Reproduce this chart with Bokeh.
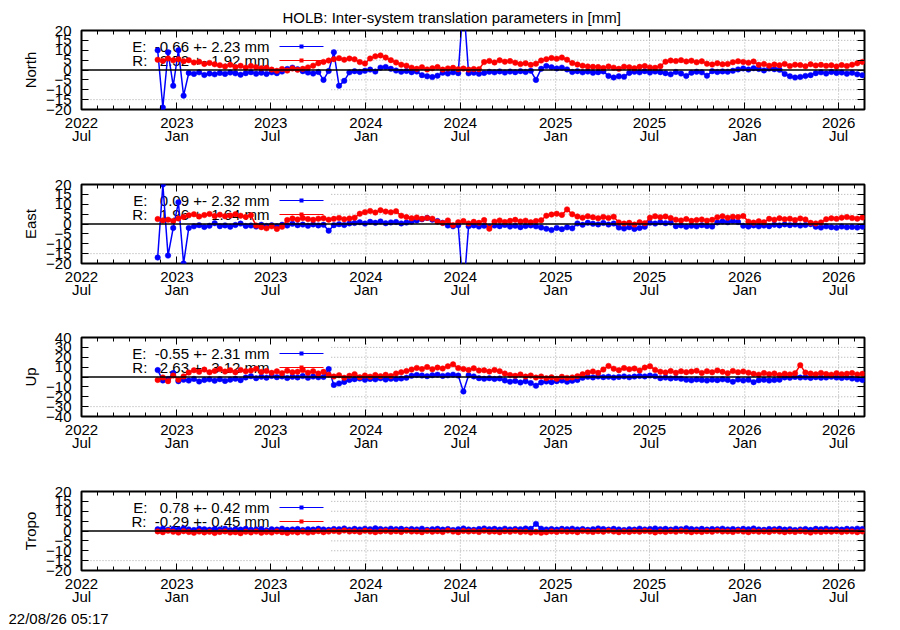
import pandas as pd
from bokeh.embed import file_html
from bokeh.layouts import column
from bokeh.models import BoxAnnotation, ColumnDataSource, FixedTicker, Label, LinearAxis, Range1d, Span, Title
from bokeh.plotting import figure
from bokeh.resources import INLINE

FONT = "Liberation Sans"
BLUE = "#0000ff"
RED = "#ff0000"
GRID = "#a8a8a8"

TITLE = "HOLB: Inter-system translation parameters in [mm]"
STAMP = "22/08/26 05:17"

# x axis
X_START = "2022-07-01"
X_END = "2026-08-20"
KEY_EDGE = "2023-10-26"  # right edge of the opaque key box
HALF_YEARS = ["2022-07-01", "2023-01-01", "2023-07-01", "2024-01-01", "2024-07-01",
              "2025-01-01", "2025-07-01", "2026-01-01", "2026-07-01"]
TICK_LABELS = ["2022\nJul", "2023\nJan", "2023\nJul", "2024\nJan", "2024\nJul",
               "2025\nJan", "2025\nJul", "2026\nJan", "2026\nJul"]

# solutions, one value every 10 days
START = "2022-11-25"
STEP = "10D"

NORTH_E = [10.0, -19.0, 9.0, -8.0, 10.0, -13.0, -1.5, -2.0, -1.2, -2.5,
           -1.8, -2.2, -1.5, -2.0, -1.3, -1.7, -2.4, -1.6, -1.1, -1.9,
           -1.4, -2.0, -1.2, -1.6, -0.8, 0.5, 1.2, 0.4, -0.6, -1.3,
           -1.8, -1.0, -5.0, -0.5, 9.0, -8.0, -5.5, -1.2, -0.6, -1.0,
           -0.4, 0.2, -0.8, 1.2, 1.5, 0.6, -0.3, -0.9, -0.5, -1.1,
           -0.8, -2.6, -3.2, -3.6, -2.9, -1.4, -1.8, -1.2, -1.6, 35.0,
           -1.7, -1.4, -1.9, -1.5, -0.9, -1.2, -0.7, -1.3, -0.8, -1.1,
           -0.6, -1.0, -0.4, -5.0, 0.6, 2.0, 1.4, 0.8, 1.2, 0.3,
           -1.0, -0.6, -1.2, -0.8, -1.4, -1.1, -0.7, -3.0, -3.8, -3.2,
           -3.4, -1.5, -0.9, -1.2, -0.6, -1.3, -0.8, -1.1, -1.6, -2.2,
           -1.0, -1.8, -3.0, -1.4, -0.9, -1.2, -2.9, -0.6, -1.0, -0.7,
           -0.9, -0.4, 0.3, 0.8, 0.2, 0.9, 0.5, -0.2, 0.7, 0.4,
           0.1, -2.0, -3.2, -3.8, -3.5, -3.0, -2.6, -1.6, -1.2, -1.8,
           -1.0, -1.5, -1.3, -1.9, -1.4, -2.2, -2.6]
NORTH_R = [5.2, 4.6, 5.8, 4.9, 5.5, 4.4, 5.0, 3.8, 4.2, 3.1,
           3.6, 2.9, 2.4, 1.8, 2.6, 1.5, 2.1, 1.2, 2.0, 1.4,
           0.9, 1.1, 0.2, -0.4, 0.5, -0.3, 0.8, 0.1, 0.6, 1.3,
           2.2, 3.4, 4.1, 4.8, 5.5, 6.0, 5.2, 5.8, 5.4, 4.0,
           3.3, 5.8, 6.9, 7.4, 6.3, 5.0, 3.8, 2.7, 2.2, 1.2,
           0.6, 1.4, 0.3, 0.9, 1.5, 0.2, 0.8, 1.1, 0.4, 0.7,
           0.2, 0.5, 0.4, 4.0, 4.6, 3.8, 4.9, 4.2, 4.5, 3.7,
           3.0, 3.4, 2.6, 3.2, 4.8, 5.5, 6.1, 5.7, 6.3, 5.2,
           3.5, 2.8, 2.2, 1.8, 1.6, 1.5, 1.0, 1.8, 1.2, 0.6,
           1.7, 1.4, 0.9, 1.6, 2.0, 1.3, 1.1, 1.9, 4.2, 4.8,
           4.5, 5.0, 4.3, 4.7, 3.9, 4.4, 3.2, 2.8, 3.4, 2.9,
           3.1, 3.9, 4.4, 4.1, 3.7, 4.3, 2.6, 3.0, 2.2, 2.8,
           2.4, 3.1, 2.0, 2.7, 2.5, 1.9, 2.9, 2.3, 2.6, 2.1,
           2.4, 1.8, 2.5, 2.0, 2.7, 3.4, 4.1]

EAST_E = [-17.0, 20.0, -16.0, -2.0, 11.0, -20.0, -2.0,
          -1.2, -0.6, -1.5, -0.9, 0.4, -1.1, -0.7, -1.4, -0.5, 0.2, -1.0, -0.8, -1.3, -0.4, -1.0, -0.6, -1.2,
          -0.4, -0.8, 0.1, -0.6, -0.3, -0.9, -0.2, -0.7, -0.4, -3.4, -0.6, -0.1, -0.5, 0.3,
          0.5, 0.9, 0.2, 1.1, 0.6, 1.3, 0.4, 0.8, 1.0, 0.3, 0.7, 1.2,
          1.8, 2.4, 3.1, 2.2, 1.5, 0.6,
          -0.8, -1.2, -0.6, -35.0, -1.1, -0.7, -1.3,
          -0.9, -1.4, -0.8, -1.1, -0.5, -1.3, -0.9, -1.6, -1.0, -0.7, -1.2,
          -1.8, -2.4, -3.1, -2.0, -2.6, -1.7, -2.2,
          0.3, -0.4, 0.6, 0.1, -0.2, 0.5, -0.3, 0.2,
          -1.8, -2.3, -1.6, -2.5, -2.0, -1.4,
          0.6, 0.2, 0.9, 0.4, 0.7,
          -1.1, -0.7, -1.4, -0.9, -1.2, -0.6, -1.0, -1.3,
          0.8, 1.3, 0.9, 1.5, 1.0,
          -0.9, -1.3, -0.7, -1.2, -0.8, -1.1,
          -0.4, -0.7, -0.2, -0.6, -0.3, -0.8, -0.5, -0.1,
          -1.4, -1.8, -1.2, -1.6, -1.9, -1.3, -1.7, -1.5, -1.8, -1.4]
EAST_R = [2.5, 1.8, 2.2, 1.5, 2.8,
          3.6, 4.4, 4.9, 3.8, 4.5, 5.1, 4.0, 4.7, 3.9, 4.3, 5.0, 4.2, 3.6, 4.4,
          -0.8, -1.6, -2.2, -1.2, -2.5, -1.4,
          2.0, 2.8, 2.3, 3.0, 2.5, 2.1, 2.7, 2.9, 2.2, 2.6, 3.1, 2.4, 2.8, 3.2,
          5.2, 6.0, 6.6, 5.8, 7.0, 6.3, 5.9, 6.5,
          4.2, 3.5, 2.9, 3.3, 2.6, 3.1, 2.7,
          1.2, 0.5, 1.8, -0.6, 0.9, 1.5, 0.3, 1.1, 0.6,
          2.0, -2.4,
          1.2, 1.8, 1.0, 1.6, 2.1, 1.3, 1.7, 0.9, 1.5, 1.9,
          4.2, 4.8, 5.2, 4.6, 7.4, 4.9,
          3.8, 3.2, 3.9, 3.4, 2.9, 3.6, 3.1, 3.7,
          0.8, 0.2, 0.6, -0.3, 0.9, 0.4,
          3.2, 3.9, 3.4, 3.8, 3.0,
          2.2, 1.8, 2.5, 1.6, 2.0, 2.3, 1.7, 2.1,
          3.4, 3.9, 3.2, 3.7, 3.5, 4.0,
          1.2, 0.7, 1.4, 0.9,
          2.6, 2.2, 2.9, 2.4, 2.7, 2.0, 2.8, 2.3,
          0.6, 0.3, 0.8,
          2.4, 2.9, 2.6, 3.2, 3.5, 3.0, 2.7, 3.3]

UP_E = [7.0, -3.5, -2.0, 4.0, -4.2, -2.8, -3.6, -1.9, -4.5, -3.0, -2.4, -3.8, -2.2, -4.0, -2.7, -1.8, -3.2,
        -0.5, 0.8, -1.2, 0.3, -0.7, 1.0, -0.2, 0.6, -1.0, 0.2, -0.4, 0.9, -0.8, 0.4, -0.3, 0.1,
        8.0, -8.0, -6.5, -5.0, -3.0,
        -2.2, -1.6, -2.8, -1.9, -2.4, -1.3, -2.6, -1.8, -2.1, -1.5, -0.8,
        1.2, 2.0, 1.5, 0.8, 1.8, 2.3, 1.1, 1.7, 2.4, 1.4,
        -14.7,
        1.8, 0.6, -1.2,
        -1.8, -1.2, -2.0, -1.5,
        -3.5, -4.8, -4.0, -5.6, -4.4, -6.2, -8.8, -5.5, -4.6, -5.2,
        -4.2, -3.6, -4.8, -3.9, -3.0,
        -0.8, 0.2, -0.4, 0.5, -0.2, 0.3, -0.6, 0.1, 0.6, -0.3, 0.4,
        1.0, 0.6, 1.4, 0.8,
        -1.2, -0.6, -1.5, -0.9, -1.8,
        -2.8, -3.4, -2.5, -3.1, -3.6, -2.7, -3.2, -2.4,
        -3.0, -4.8, -2.6, -3.5, -2.9, -5.2, -3.3, -2.8, -3.6, -3.1, -2.7,
        -0.4, -0.8, 0.1, -0.6, -0.3, -0.9, -0.2, -0.7, -0.5, 0.2, -0.6, -1.0, -0.4, -1.5, -2.4, -3.0]
UP_R = [-3.0, -0.5, -4.2, 1.5, -2.8, 0.6,
        4.5, 6.8, 5.2, 7.5, 4.8, 6.2, 8.0, 5.5, 6.9, 4.9, 7.2, 5.8, 6.5, 8.3, 5.1,
        6.1, 4.2, 5.7, 3.9, 6.4, 4.8, 5.3, 7.0, 4.4, 5.9, 3.6, 5.2,
        2.4, 0.5, 1.8, -0.8, 1.2, 2.9, -0.2, 1.5, 0.3, 2.0,
        0.8, 2.2, 1.0, 3.5, 4.8, 6.0,
        7.5, 9.2, 8.0, 10.1, 7.8, 9.5, 8.6, 10.8, 12.8, 9.0, 8.2, 7.0, 8.8, 6.5,
        6.8, 5.5, 7.2, 5.9,
        3.5, 2.0, 1.2, 2.6, 0.4, 1.5, -0.6,
        0.5, -1.2, -0.3, -1.8, 0.2, -0.9, -0.4, 0.8,
        2.8, 4.5, 5.6, 4.2,
        7.5, 11.2, 8.4, 6.9, 9.1, 7.8, 8.6, 6.6, 9.5, 10.9, 7.2,
        5.4, 4.6, 6.0, 4.3, 5.8, 4.9,
        5.5, 6.3, 4.1, 5.9, 4.7, 6.6, 5.2, 3.9, 6.1, 4.8, 5.6, 4.4,
        3.2, 2.4, 4.0, 2.8, 3.6, 1.9, 3.4, 2.6, 3.8,
        12.0, 4.5,
        3.5, 2.7, 4.1, 3.0, 2.4, 3.8, 2.9, 3.3, 4.0, 2.6, 3.2]

TROPO_E = [0.9, 1.2, 0.6, 1.0, 0.7, 1.3, 0.8, 0.5, 1.1, 0.9,
           0.6, 1.0, 0.8, 1.2, 0.5, 0.9, 0.7, 1.1, 0.6, 0.8,
           1.0, 0.4, 0.9, 0.7, 1.2, 0.6, 0.8, 1.0, 0.5, 0.9,
           0.7, 1.1, 0.8, 0.6, 1.0, 0.9, 1.3, 0.7, 1.1, 0.8,
           1.2, 0.9, 1.4, 1.0, 0.8, 1.2, 0.9, 1.1, 0.7, 1.0,
           0.8, 1.2, 0.6, 0.9, 1.1, 0.7, 1.0, 0.5, 0.9, 1.3,
           0.8, 0.6, 1.0, 1.3, 0.9, 1.1, 0.7, 1.2, 0.8, 1.0,
           0.9, 1.3, 1.1, 3.6, 1.2, 0.8, 1.0, 0.7, 1.1, 0.9,
           1.2, 0.8, 1.0, 0.6, 0.9, 1.3, 1.0, 0.7, 1.1, 0.8,
           0.5, 0.9, 0.7, 1.2, 0.8, 1.0, 1.3, 0.9, 1.1, 0.7,
           1.2, 0.9, 1.4, 1.0, 0.8, 1.1, 0.7, 1.0, 0.9, 1.2,
           0.8, 1.0, 0.7, 1.1, 0.9, 1.3, 0.8, 0.6, 1.0, 0.9,
           1.1, 0.7, 0.9, 0.5, 0.8, 1.0, 0.6, 1.1, 0.9, 1.2,
           0.8, 1.0, 0.7, 1.1, 0.9, 1.2, 1.0]
TROPO_R = [-0.2, -0.6, 0.1, -0.4, -0.8, -0.1, -0.5, -0.9, -0.3, -0.7,
           -0.4, -1.0, -0.5, -0.2, -0.8, -0.6, -1.1, -0.4, -0.7, -0.3,
           -0.9, -0.5, -0.8, -0.2, -0.6, -1.0, -0.4, -0.7, -0.3, -0.8,
           -0.5, -0.1, -0.6, -0.3, 0.0, -0.4, 0.2, -0.3, -0.1, -0.5,
           0.1, -0.3, -0.6, -0.2, 0.0, -0.4, -0.1, -0.5, 0.1, -0.3,
           -0.2, -0.6, 0.0, -0.4, -0.1, -0.5, 0.2, -0.3, -0.6, 0.0,
           -0.3, -0.1, -0.5, 0.1, -0.4, -0.2, -0.6, -0.1, -0.4, 0.0,
           -0.5, -0.3, -0.8, -0.4, -0.9, -0.6, -0.2, -0.5, -0.1, -0.4,
           -0.2, -0.6, 0.0, -0.3, -0.5, -0.1, -0.4, 0.1, -0.3, -0.6,
           -0.2, -0.5, -0.1, -0.4, 0.0, -0.3, -0.7, -0.2, -0.5, -0.1,
           -0.4, 0.0, -0.3, -0.6, -0.2, -0.5, -0.1, -0.4, 0.1, -0.3,
           -0.2, -0.5, 0.0, -0.3, -0.6, -0.1, -0.4, -0.2, -0.5, 0.0,
           -0.3, -0.6, -0.2, -0.5, -0.1, -0.4, -0.8, -0.3, -0.5, -0.2,
           -0.4, -0.1, -0.5, -0.2, -0.3, -0.6, -0.2]

# name, E series, R series, key texts, y limit, y tick step
PANELS = [
    ("North", NORTH_E, NORTH_R, "E:  -0.66 +- 2.23 mm", "R:   2.52 +- 1.92 mm", 20, 5),
    ("East", EAST_E, EAST_R, "E:   0.09 +- 2.32 mm", "R:   1.96 +- 1.64 mm", 20, 5),
    ("Up", UP_E, UP_R, "E:  -0.55 +- 2.31 mm", "R:   2.63 +- 3.12 mm", 40, 10),
    ("Tropo", TROPO_E, TROPO_R, "E:   0.78 +- 0.42 mm", "R:  -0.29 +- 0.45 mm", 20, 5),
]
HEIGHTS = [154, 153, 154, 169]


def ms(d):
    return int(pd.Timestamp(d).value // 10**6)


major_ms = [ms(d) for d in HALF_YEARS]
minor_ms = [ms(d) for d in pd.date_range(X_START, X_END, freq="MS")]

FRAME_H = 79
TOP = 30


def add_key(p, y, text, color):
    p.add_layout(Label(x=188, y=y, x_units="screen", y_units="screen", text=text.replace(" ", "\u00a0"),
                       text_align="right", text_baseline="middle", text_font=FONT, text_font_size="15px",
                       text_color="black", level="underlay"))
    p.add_layout(BoxAnnotation(left=198, right=242, bottom=y - 0.6, top=y + 0.6, left_units="screen",
                               right_units="screen", bottom_units="screen", top_units="screen",
                               fill_color=color, fill_alpha=1, line_color=None, level="underlay"))
    p.add_layout(BoxAnnotation(left=218, right=222, bottom=y - 2, top=y + 2, left_units="screen",
                               right_units="screen", bottom_units="screen", top_units="screen",
                               fill_color=color, fill_alpha=1, line_color=None, level="underlay"))


figs = []
for k, (name, e_vals, r_vals, e_text, r_text, ylim, ystep) in enumerate(PANELS):
    height = HEIGHTS[k]
    p = figure(width=900, height=height, x_axis_type="datetime",
               x_range=Range1d(pd.Timestamp(X_START), pd.Timestamp(X_END)), y_range=Range1d(-ylim, ylim),
               output_backend="svg", toolbar_location=None,
               min_border_left=81, min_border_right=36, min_border_top=TOP,
               min_border_bottom=height - TOP - FRAME_H)
    p.xgrid.visible = False
    p.ygrid.visible = False
    p.outline_line_color = "black"
    p.outline_line_width = 2
    p.background_fill_color = "white"
    p.border_fill_color = "white"

    yticks = list(range(-ylim, ylim + ystep, ystep))
    xticker = FixedTicker(ticks=major_ms, minor_ticks=minor_ms)
    yticker = FixedTicker(ticks=yticks, minor_ticks=[])

    bottom_axis = p.below[0]
    left_axis = p.left[0]
    bottom_axis.ticker = xticker
    bottom_axis.major_label_overrides = dict(zip(major_ms, TICK_LABELS))
    left_axis.ticker = yticker
    left_axis.axis_label = name

    top_axis = LinearAxis(ticker=xticker, major_label_text_alpha=0, major_label_text_font_size="1px",
                          major_label_standoff=0)
    right_axis = LinearAxis(ticker=yticker, major_label_text_alpha=0, major_label_text_font_size="1px",
                            major_label_standoff=0)
    p.add_layout(top_axis, "above")
    p.add_layout(right_axis, "right")

    for ax in (bottom_axis, left_axis, top_axis, right_axis):
        ax.axis_line_color = None
        ax.major_tick_in = 7
        ax.major_tick_out = 0
        ax.minor_tick_in = 4
        ax.minor_tick_out = 0
        ax.major_tick_line_color = "black"
        ax.minor_tick_line_color = "black"
    for ax in (bottom_axis, left_axis):
        ax.major_label_text_font = FONT
        ax.major_label_text_font_size = "15px"
        ax.major_label_text_color = "black"
    bottom_axis.major_label_standoff = 4
    bottom_axis.major_label_text_line_height = 0.8
    left_axis.major_label_standoff = 10
    left_axis.axis_label_standoff = 4
    left_axis.axis_label_text_font = FONT
    left_axis.axis_label_text_font_size = "15px"
    left_axis.axis_label_text_font_style = "normal"
    left_axis.axis_label_text_color = "black"

    # dotted grid, hidden behind the key box on the left
    low = yticks[1]
    for y in yticks[1:-1]:
        if y == 0:
            continue
        x_from = X_START if y == low else KEY_EDGE
        p.segment(x0=[pd.Timestamp(x_from)], x1=[pd.Timestamp(X_END)], y0=[y], y1=[y],
                  line_color=GRID, line_dash="1 2", line_width=1)
    for t, d in zip(major_ms, HALF_YEARS):
        if pd.Timestamp(d) > pd.Timestamp(KEY_EDGE):
            p.add_layout(Span(location=t, dimension="height", line_color=GRID, line_dash="1 2",
                              line_width=1, level="underlay"))

    add_key(p, FRAME_H - 16, e_text, BLUE)
    add_key(p, FRAME_H - 30, r_text, RED)

    for vals, color in ((e_vals, BLUE), (r_vals, RED)):
        src = ColumnDataSource(data=dict(t=pd.date_range(START, periods=len(vals), freq=STEP), v=vals))
        p.line("t", "v", source=src, line_color=color, line_width=1.5)
        p.scatter("t", "v", source=src, size=5.5, fill_color=color, line_color=color, line_width=0.5)

    p.add_layout(Span(location=0, dimension="width", line_color="black", line_width=1.5))
    figs.append(p)

# main title over the whole page, time stamp bottom left
figs[0].title = Title(text=TITLE, align="left", offset=201, standoff=10,
                      text_font=FONT, text_font_size="15px", text_font_style="normal", text_color="black")
figs[3].add_layout(Title(text=STAMP, align="left", offset=-73, standoff=-2, text_font=FONT,
                         text_font_size="15px", text_font_style="normal", text_color="black"), "below")

layout = column(*figs)
open("out.html", "w").write(file_html(layout, INLINE))
